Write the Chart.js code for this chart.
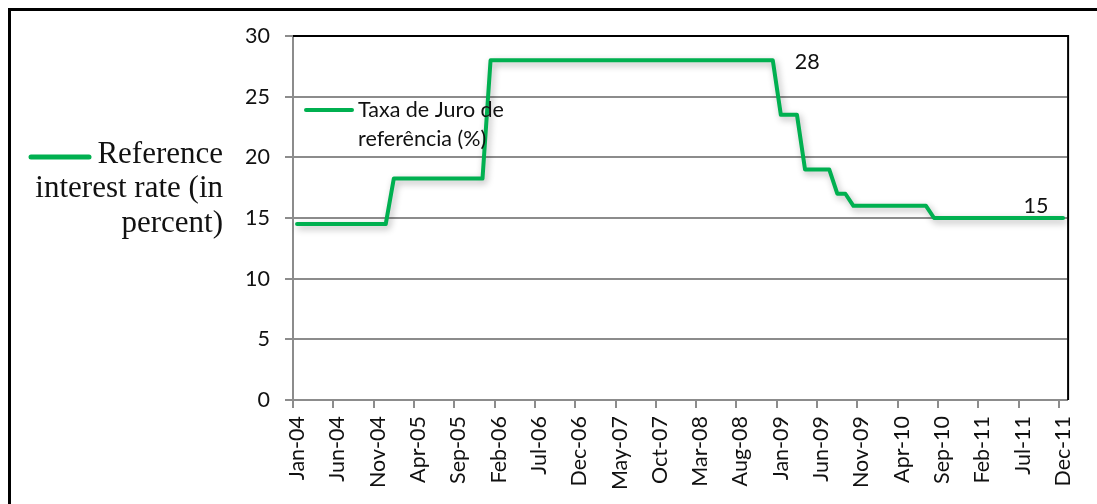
<!DOCTYPE html>
<html>
<head>
<meta charset="utf-8">
<script src="https://cdn.jsdelivr.net/npm/chart.js@4.4.1/dist/chart.umd.min.js"></script>
<style>
  html, body { margin: 0; padding: 0; background: #fff; }
  #wrap { position: relative; width: 1097px; height: 504px; }
</style>
</head>
<body>
<div id="wrap"><canvas id="taxa"></canvas></div>
<script>
// monthly reference rate, Jan-04 .. Dec-11
const monthNames = ["Jan", "Feb", "Mar", "Apr", "May", "Jun", "Jul", "Aug", "Sep", "Oct", "Nov", "Dec"];
const years = ["04", "05", "06", "07", "08", "09", "10", "11"];
const categories = [];
years.forEach(y => monthNames.forEach(m => categories.push(m + "-" + y)));

const rates = [
  14.5, 14.5, 14.5, 14.5, 14.5, 14.5, 14.5, 14.5, 14.5, 14.5, 14.5, 14.5,
  18.25, 18.25, 18.25, 18.25, 18.25, 18.25, 18.25, 18.25, 18.25, 18.25, 18.25, 18.25,
  28, 28, 28, 28, 28, 28, 28, 28, 28, 28, 28, 28,
  28, 28, 28, 28, 28, 28, 28, 28, 28, 28, 28, 28,
  28, 28, 28, 28, 28, 28, 28, 28, 28, 28, 28, 28,
  23.5, 23.5, 23.5, 19, 19, 19, 19, 17, 17, 16, 16, 16,
  16, 16, 16, 16, 16, 16, 16, 15, 15, 15, 15, 15,
  15, 15, 15, 15, 15, 15, 15, 15, 15, 15, 15, 15
];
const yTicks = [0, 5, 10, 15, 20, 25, 30];
const seriesName = ["Taxa de Juro de", "referência (%)"];
const sideNote = ["Reference", "interest rate (in", "percent)"];
const pointLabels = [59, 92]; // months that carry a value label

const green = "rgb(0, 176, 80)";
const axisGray = "#8c8c8c";
const tickFont = { family: "Lato", size: 21.5 };

const shadowLine = {
  id: "shadowLine",
  beforeDatasetDraw(chart) {
    const c = chart.ctx;
    c.save();
    c.shadowColor = "rgba(0,0,0,0.3)";
    c.shadowBlur = 7;
    c.shadowOffsetX = 2;
    c.shadowOffsetY = 3;
  },
  afterDatasetDraw(chart) {
    chart.ctx.restore();
  }
};

const extras = {
  id: "extras",
  afterDraw(chart) {
    const c = chart.ctx;
    const a = chart.chartArea;
    const xs = chart.scales.x, ys = chart.scales.y;
    c.save();
    // page frame
    c.strokeStyle = "#000";
    c.lineWidth = 3;
    c.beginPath();
    c.moveTo(8, 9.5); c.lineTo(1097, 9.5);
    c.moveTo(9.5, 8); c.lineTo(9.5, 504);
    c.stroke();
    // plot frame top / right
    c.lineWidth = 2;
    c.beginPath();
    c.moveTo(a.left, a.top); c.lineTo(a.right + 1, a.top);
    c.lineTo(a.right + 1, a.bottom);
    c.stroke();

    // legend inside plot
    c.strokeStyle = green;
    c.lineWidth = 4;
    c.lineCap = "round";
    c.beginPath();
    c.moveTo(306, 110); c.lineTo(352, 110);
    c.stroke();
    c.fillStyle = "#111";
    c.font = "21.5px Lato";
    c.textAlign = "left";
    c.textBaseline = "alphabetic";
    c.fillText(seriesName[0], 358, 117);
    c.fillText(seriesName[1], 358, 146);

    // value labels
    const p0 = pointLabels[0], p1 = pointLabels[1];
    c.fillText(String(rates[p0]), xs.getPixelForValue(p0) + 22, ys.getPixelForValue(rates[p0]) + 9);
    c.textAlign = "center";
    c.fillText(String(rates[p1]), xs.getPixelForValue(p1) - 3, ys.getPixelForValue(rates[p1]) - 5);

    // side note
    c.beginPath();
    c.lineWidth = 5;
    c.moveTo(31, 157); c.lineTo(89, 157);
    c.stroke();
    c.fillStyle = "#111";
    c.font = "31px 'Liberation Serif'";
    c.textAlign = "right";
    c.fillText(sideNote[0], 223, 163);
    c.fillText(sideNote[1], 223, 197);
    c.fillText(sideNote[2], 223, 232);
    c.restore();
  }
};

new Chart(document.getElementById("taxa"), {
  type: "line",
  data: {
    labels: categories,
    datasets: [
      {
        label: seriesName.join(" "),
        data: rates,
        borderColor: green,
        backgroundColor: green,
        borderWidth: 4,
        pointRadius: 0,
        tension: 0,
        borderJoinStyle: "round",
        borderCapStyle: "round",
      },
    ],
  },
  options: {
    responsive: true,
    maintainAspectRatio: false,
    animation: false,
    layout: { padding: { left: 230, top: 36, right: 25, bottom: 4 } },
    plugins: { legend: { display: false }, tooltip: { enabled: false } },
    scales: {
      x: {
        type: "category",
        offset: true,
        grid: {
          offset: true,
          drawOnChartArea: false,
          tickLength: 8,
          lineWidth: 2,
          color: ctx => (ctx.index % 5 === 0 ? axisGray : "transparent"),
        },
        border: { color: axisGray, width: 2 },
        ticks: {
          autoSkip: false,
          minRotation: 90,
          maxRotation: 90,
          padding: 8,
          color: "#111",
          font: tickFont,
          callback: (v, i) => (i % 5 === 0 ? categories[i] : ""),
        },
        afterFit: s => { s.height = 100; },
      },
      y: {
        min: yTicks[0],
        max: yTicks[yTicks.length - 1],
        afterBuildTicks: s => { s.ticks = yTicks.map(v => ({ value: v })); },
        grid: {
          lineWidth: 2,
          tickLength: 8,
          color: ctx => (ctx.tick && ctx.tick.value === 30 ? "#000" : axisGray),
          tickColor: axisGray,
        },
        border: { color: axisGray, width: 2 },
        ticks: { padding: 15, color: "#111", font: tickFont },
        afterFit: s => { s.width = 63; },
      },
    },
  },
  plugins: [shadowLine, extras],
});
</script>
</body>
</html>
